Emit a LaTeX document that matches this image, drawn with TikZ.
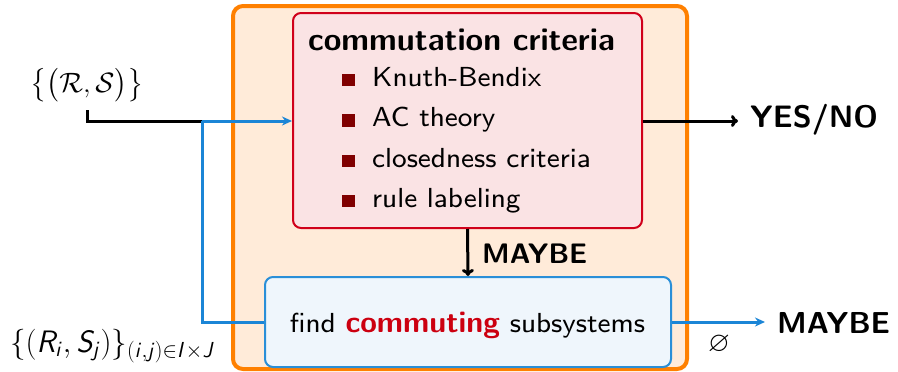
\documentclass[tikz,border=0pt]{standalone}
\usepackage{fix-cm}
\usepackage{amsmath,amssymb}
\usetikzlibrary{arrows.meta}
\DeclareMathAlphabet{\mathsfit}{OT1}{cmss}{m}{sl}
\definecolor{obord}{HTML}{FF8000}
\definecolor{ofill}{HTML}{FFEBD9}
\definecolor{rbord}{HTML}{D0001A}
\definecolor{rfill}{HTML}{FAE3E4}
\definecolor{bbord}{HTML}{2A8FD8}
\definecolor{bfill}{HTML}{EFF6FC}
\definecolor{barrow}{HTML}{1B85D6}
\definecolor{bullred}{HTML}{800000}
\definecolor{hired}{HTML}{CC0010}
\newcommand{\bodytext}[1]{\scalebox{3.44}{\sffamily\fontsize{8}{9.6}\selectfont #1}}
\newcommand{\titletext}[1]{\scalebox{3.44}{\sffamily\bfseries\fontsize{9.3}{11}\selectfont #1}}
\tikzset{
  txt/.style={inner sep=0pt},
  mth/.style={inner sep=0pt, font=\fontsize{28}{30}\selectfont},
  bigb/.style={inner sep=0pt, font=\sffamily\bfseries\fontsize{31}{34}\selectfont},
  midb/.style={inner sep=0pt, font=\sffamily\bfseries\fontsize{28.2}{32}\selectfont},
  bull/.style={fill=bullred, inner sep=0pt, minimum size=12.5pt},
  blk/.style={line width=3pt, black},
  bla/.style={line width=3pt, barrow},
}
\begin{document}
\begin{tikzpicture}[x=1pt,y=-1pt]
\useasboundingbox (0,0) rectangle (898,372);
\node[draw=obord, fill=ofill, line width=4pt, rounded corners=10pt,
      minimum width=454pt, minimum height=363pt, inner sep=0pt] (outer) at (460,187.5) {};
\node[draw=rbord, fill=rfill, line width=2pt, rounded corners=8pt,
      minimum width=349pt, minimum height=215pt, inner sep=0pt] (crit) at (467.5,120.5) {};
\node[draw=bbord, fill=bfill, line width=2pt, rounded corners=8pt,
      minimum width=406pt, minimum height=90pt, inner sep=0pt] (find) at (468,322) {};

\node[txt, anchor=base west] (title) at (308,50) {\titletext{commutation criteria}};
\node[bull] (b1) at (348.5,80) {};
\node[txt, anchor=base west] (k1) at (372,86) {\bodytext{Knuth-Bendix}};
\node[bull] (b2) at (348.5,120.5) {};
\node[txt, anchor=base west] (k2) at (372,126.5) {\bodytext{AC theory}};
\node[bull] (b3) at (348.5,161) {};
\node[txt, anchor=base west] (k3) at (372,167) {\bodytext{closedness criteria}};
\node[bull] (b4) at (348.5,201) {};
\node[txt, anchor=base west] (k4) at (372,207) {\bodytext{rule labeling}};

\node[txt, anchor=base] (findtxt) at (467.5,332) {\bodytext{find {\fontsize{8.8}{9.6}\selectfont\bfseries\color{hired}commuting} subsystems}};

\node[mth, anchor=base west] (in1) at (30,92) {$\bigl\{\bigl(\mathcal{R},\mathcal{S}\bigr)\bigr\}$};
\node[inner sep=0pt, font=\fontsize{31}{34}\selectfont, anchor=base west] (in2) at (10,352) {$\{(\mathsfit{R}_{\mathsfit{i}},\mathsfit{S}_{\mathsfit{j}})\}_{(\mathsfit{i},\mathsfit{j})\in \mathsfit{I}\times \mathsfit{J}}$};

\coordinate (s1) at (87,110);
\coordinate (j1) at (202,121);
\draw[blk] (s1) |- (j1);
\draw[bla, -{Stealth[length=10pt,width=9pt]}] (j1) -- (crit.west |- j1);
\draw[bla] (j1) |- (find.west);

\node[bigb, anchor=base west] (yes) at (750,127) {YES/NO};
\draw[blk, -{To[length=7pt,width=12pt]}] (crit.east |- j1) -- ([xshift=-12pt]yes.west |- j1);

\node[midb, anchor=base west] (may1) at (482,263) {MAYBE};
\draw[blk, -{To[length=7pt,width=12pt]}] (crit.south) -- (find.north);

\node[inner sep=0pt, font=\sffamily\bfseries\fontsize{30.3}{34}\selectfont, anchor=base west] (may2) at (777,333) {MAYBE};
\draw[bla, -{Stealth[length=10pt,width=9pt]}] (find.east) -- ([xshift=-12pt]may2.west |- find.east);
\node[inner sep=0pt, font=\fontsize{28}{30}\selectfont] (empty) at (719,344) {$\varnothing$};
\end{tikzpicture}
\end{document}
